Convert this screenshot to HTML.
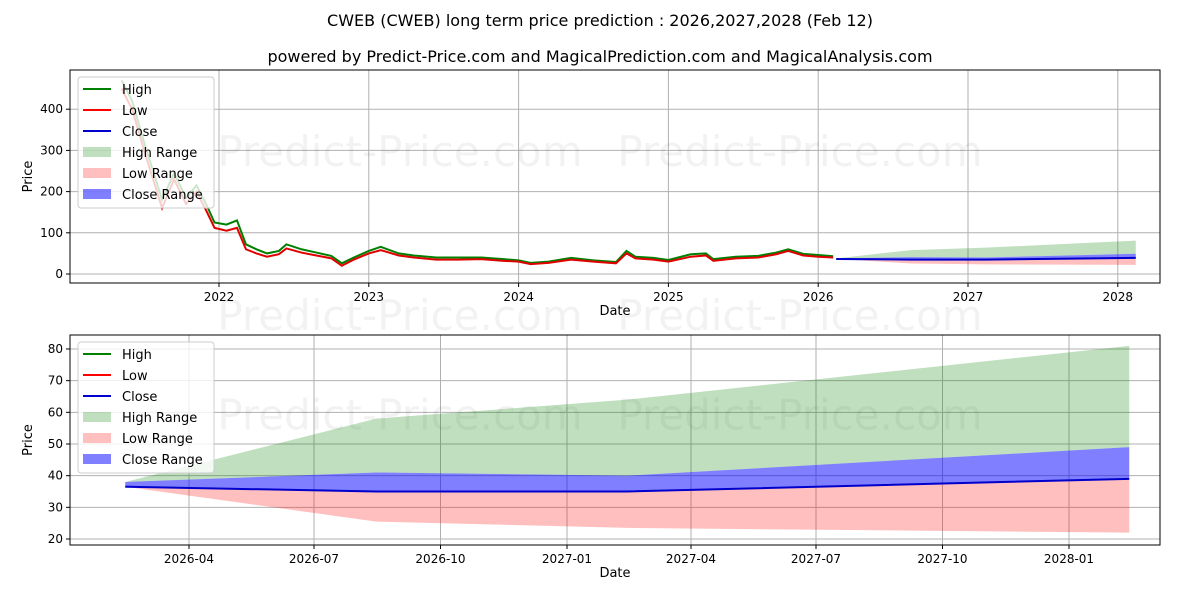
<!DOCTYPE html>
<html><head><meta charset="utf-8"><style>
body{margin:0;background:#fff;font-family:"Liberation Sans","DejaVu Sans",sans-serif}
svg text{font-family:"DejaVu Sans","Liberation Sans",sans-serif}
</style></head><body>
<svg id="c" width="1200" height="600" xmlns="http://www.w3.org/2000/svg">
<text x="600" y="26" font-size="16" text-anchor="middle">CWEB (CWEB) long term price prediction : 2026,2027,2028 (Feb 12)</text>
<text x="600" y="62" font-size="16" text-anchor="middle">powered by Predict-Price.com and MagicalPrediction.com and MagicalAnalysis.com</text>
</svg>
<script>
const histT=[2021.35,2021.42,2021.5,2021.56,2021.62,2021.7,2021.78,2021.85,2021.92,2021.97,2022.05,2022.12,2022.18,2022.25,2022.32,2022.4,2022.45,2022.55,2022.65,2022.75,2022.82,2022.9,2023.0,2023.08,2023.2,2023.3,2023.45,2023.6,2023.75,2023.9,2024.0,2024.08,2024.2,2024.35,2024.5,2024.65,2024.72,2024.78,2024.9,2025.0,2025.15,2025.25,2025.3,2025.45,2025.6,2025.72,2025.8,2025.9,2026.0,2026.1];
const histLow=[450,400,300,230,160,230,170,200,150,112,105,112,60,50,42,48,62,52,45,38,20,35,50,58,45,40,35,35,36,32,30,24,27,35,30,26,50,38,35,30,42,45,32,38,40,48,56,45,42,40];
const histHigh=[470,420,320,250,180,245,185,215,165,125,120,130,72,60,50,56,72,60,52,44,26,40,56,66,50,45,40,40,40,36,33,27,30,39,33,29,56,42,39,34,48,50,36,42,44,52,60,49,46,43];
const fcT=[2026.12,2026.62,2027.12,2028.12];
const fcHigh=[38,58,64,81];
const fcCloseUp=[38,41,40,49];
const fcClose=[36.5,35,35,39];
const fcLow=[36.5,25.5,23.5,22];
const topYTicks=[0,100,200,300,400];
const topXTicks=[2022,2023,2024,2025,2026,2027,2028];
const botYTicks=[20,30,40,50,60,70,80];
const botXTicks=[2026.247,2026.496,2026.748,2027.0,2027.247,2027.496,2027.748,2028.0];
const botXLabels=['2026-04','2026-07','2026-10','2027-01','2027-04','2027-07','2027-10','2028-01'];
const S='http://www.w3.org/2000/svg',svg=document.getElementById('c');
function el(t,a,p){const e=document.createElementNS(S,t);for(const k in a)e.setAttribute(k,a[k]);(p||svg).appendChild(e);return e;}
function panel(L,T,R,B,xs,ys,xt,xl,yt,top,name){
 const g=el('g',{});
 
 
 xt.forEach((v,i)=>{const x=xs(v);el('line',{x1:x,x2:x,y1:T,y2:B,stroke:'#b0b0b0','stroke-width':1},g);el('line',{x1:x,x2:x,y1:B,y2:B+4,stroke:'#000'},g);
  const t=el('text',{x:x,y:B+18,'font-size':12,'text-anchor':'middle'},g);t.textContent=xl[i];
  
  });
 yt.forEach(v=>{const y=ys(v);el('line',{x1:L,x2:R,y1:y,y2:y,stroke:'#b0b0b0'},g);el('line',{x1:L-4,x2:L,y1:y,y2:y,stroke:'#000'},g);
  const t=el('text',{x:L-7,y:y+4,'font-size':12,'text-anchor':'end'},g);t.textContent=v;
  
  });
 const wm=(x,y)=>{const t=el('text',{x:x,y:y,'font-size':42,fill:'#000','fill-opacity':0.05,'text-anchor':'middle'},g);t.textContent='Predict-Price.com';
  
  };
 wm(400,T+(B-T)*0.45);wm(800,T+(B-T)*0.45);if(top){wm(400,T+(B-T)*1.22);wm(800,T+(B-T)*1.22);}
 const band=(lo,hi,fill,op,n)=>{let d='';fcT.forEach((t,i)=>d+=(i?'L':'M')+xs(t)+','+ys(hi[i]));for(let i=fcT.length-1;i>=0;i--)d+='L'+xs(fcT[i])+','+ys(lo[i]);
  const p=el('path',{d:d+'Z',fill:fill,'fill-opacity':op},g);
  
  };
 band(fcCloseUp,fcHigh,'#008000',0.25,'high-range');
 band(fcLow,fcClose,'#ff0000',0.25,'low-range');
 band(fcClose,fcCloseUp,'#0000ff',0.5,'close-range');
 const line=(T2,V,c,n,w)=>{const p=el('polyline',{points:T2.map((t,i)=>xs(t)+','+ys(V[i])).join(' '),fill:'none',stroke:c,'stroke-width':w},g);
  
  };
 if(top){line(histT,histHigh,'#008000','high-line',2);line(histT,histLow,'#e00000','low-line',2);}
 line(fcT,fcClose,'#0000cc','close-line',2);
 el('rect',{x:L,y:T,width:R-L,height:B-T,fill:'none',stroke:'#000'},g);
 const lg=el('g',{},g);
 
 
 const lx=L+8,ly=T+7;
 el('rect',{x:lx,y:ly,width:136,height:131,fill:'#fff','fill-opacity':0.8,stroke:'#ccc',rx:3},lg);
 [['High','#008000',0],['Low','#ff0000',0],['Close','#0000cc',0],['High Range','#008000',0.25],['Low Range','#ff0000',0.25],['Close Range','#0000ff',0.5]].forEach((e,i)=>{
  const y=ly+12+i*21;
  if(e[2]===0)el('line',{x1:lx+5,x2:lx+33,y1:y,y2:y,stroke:e[1],'stroke-width':2},lg);
  else el('rect',{x:lx+5,y:y-5,width:28,height:10,fill:e[1],'fill-opacity':e[2]},lg);
  const t=el('text',{x:lx+44,y:y+5,'font-size':13},lg);t.textContent=e[0];
  
  });
 const xlab=el('text',{x:(L+R)/2,y:B+32,'font-size':13,'text-anchor':'middle'},g);xlab.textContent='Date';
 
 
 const yl=el('text',{x:0,y:0,'font-size':13,'text-anchor':'middle',transform:`translate(${L-38},${(T+B)/2}) rotate(-90)`},g);yl.textContent='Price';
 
 
}
panel(70,70,1160,283,t=>219+(t-2022)*149.8,v=>274-v*0.412,topXTicks,topXTicks.map(String),topYTicks,true,'history-panel');
panel(70,335,1160,545,t=>189+(t-2026.247)*502,v=>539-(v-20)*3.167,botXTicks,botXLabels,botYTicks,false,'forecast-panel');
</script>
</body></html>
